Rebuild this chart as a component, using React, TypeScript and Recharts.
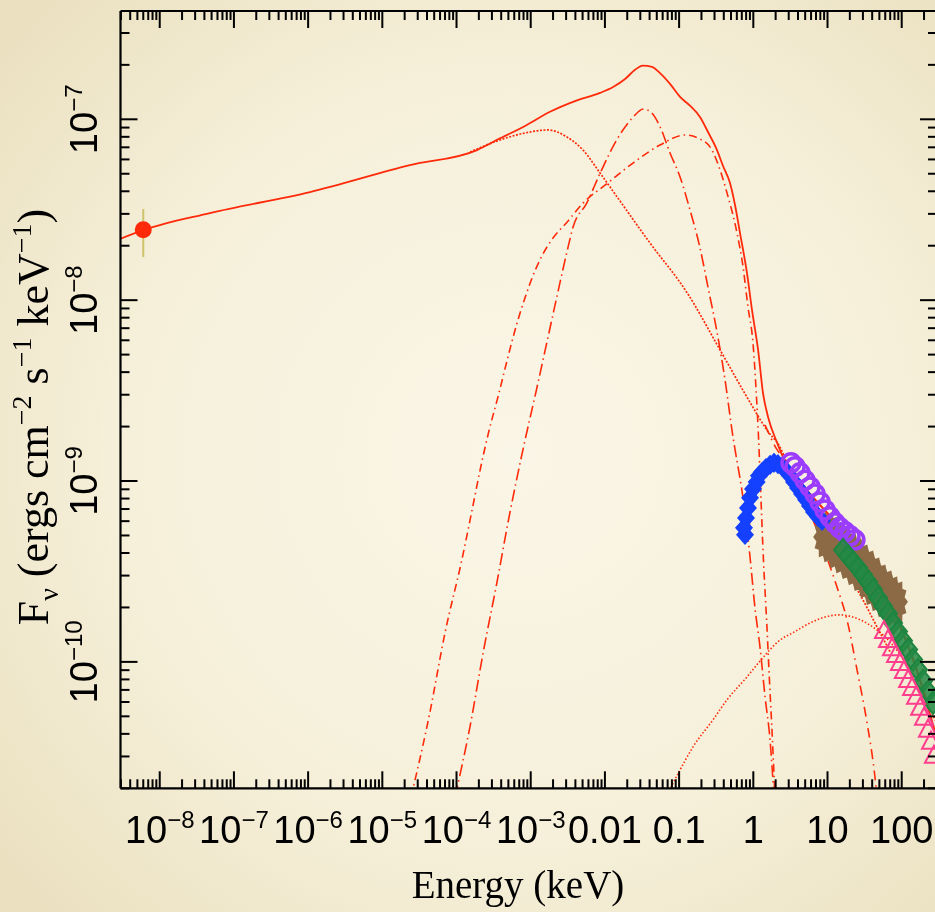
import React from 'react';
import { ComposedChart, Line, Scatter, XAxis, YAxis, ErrorBar } from 'recharts';

// energy (keV) / F_nu (ergs cm^-2 s^-1 keV^-1) pairs
const radioPoint = [{ e: 6.0e-9, f: 2.45e-8, err: [0.72e-8, 0.74e-8] }];

const totalModel: [number, number][] = [
  [2.9e-9, 2.18e-8], [6.0e-9, 2.44e-8], [4.75e-8, 3.03e-8], [1.06e-6, 3.96e-8], [2.36e-5, 5.58e-8],
  [1.89e-4, 6.76e-8], [3.86e-4, 7.85e-8], [8.38e-4, 9.18e-8], [1.82e-3, 1.1e-7], [3.95e-3, 1.26e-7],
  [8.59e-3, 1.4e-7], [1.29e-2, 1.51e-7], [1.87e-2, 1.67e-7], [2.55e-2, 1.88e-7], [3.26e-2, 1.98e-7],
  [4.31e-2, 1.95e-7], [5.53e-2, 1.8e-7], [7.54e-2, 1.57e-7], [0.103, 1.33e-7], [0.14, 1.19e-7],
  [0.191, 1.03e-7], [0.245, 8.51e-8], [0.324, 6.76e-8], [0.391, 5.52e-8], [0.485, 4.45e-8],
  [0.567, 3.36e-8], [0.662, 2.35e-8], [0.822, 1.41e-8], [0.96, 8.83e-9], [1.16, 5.31e-9],
  [1.35, 3.07e-9], [1.58, 2.26e-9], [2.09, 1.63e-9], [2.51, 1.36e-9], [3.12, 1.18e-9],
];

const synchrotron: [number, number][] = [
  [1.52e-4, 6.59e-8], [3.86e-4, 7.69e-8], [8.38e-4, 8.4e-8], [1.71e-3, 8.73e-8], [3.08e-3, 7.98e-8],
  [5.07e-3, 6.76e-8], [8.59e-3, 5.05e-8], [1.46e-2, 3.72e-8], [4.05e-2, 2.07e-8], [0.128, 1.1e-8],
  [0.356, 5.31e-9], [0.822, 2.91e-9], [1.53, 1.91e-9], [2.29, 1.54e-9], [3.65, 9.77e-10],
  [5.81, 6.58e-10], [10.2, 4.44e-10], [18.3, 3.14e-10], [29.2, 2.25e-10], [46.5, 1.56e-10], [69.5, 1.14e-10],
];

const broadBump: [number, number][] = [
  [2.44e-5, 1.79e-11], [4.3e-5, 5.07e-11], [7.0e-5, 1.45e-10], [1.17e-4, 3.61e-10], [1.6e-4, 6.73e-10],
  [2.07e-4, 1.14e-9], [2.69e-4, 1.84e-9], [3.66e-4, 2.97e-9], [4.75e-4, 4.56e-9], [6.47e-4, 7.36e-9],
  [8.38e-4, 1.03e-8], [1.03e-3, 1.31e-8], [1.41e-3, 1.75e-8], [2.02e-3, 2.22e-8], [3.06e-3, 2.69e-8],
  [5.07e-3, 3.44e-8], [1.1e-2, 4.45e-8], [2.39e-2, 5.73e-8], [5.53e-2, 7.21e-8], [0.12, 8.19e-8],
  [0.191, 7.78e-8], [0.277, 6.76e-8], [0.356, 5.25e-8], [0.442, 3.92e-8], [0.603, 2.35e-8],
  [0.727, 1.53e-8], [0.848, 9.16e-9], [0.99, 5.79e-9], [1.09, 3.19e-9], [1.18, 1.69e-9],
  [1.27, 7.87e-10], [1.37, 3.66e-10], [1.51, 1.71e-10], [1.65, 7.94e-11], [1.81, 3.71e-11], [1.96, 1.79e-11],
];

const narrowBump: [number, number][] = [
  [9.55e-5, 1.79e-11], [1.52e-4, 4.39e-11], [2.3e-4, 1.14e-10], [3.48e-4, 2.71e-10], [5.26e-4, 6.73e-10],
  [7.94e-4, 1.52e-9], [1.21e-3, 3.27e-9], [1.73e-3, 6.38e-9], [2.36e-3, 1.14e-8], [3.06e-3, 1.83e-8],
  [3.75e-3, 2.56e-8], [5.69e-3, 3.44e-8], [8.59e-3, 5.02e-8], [1.44e-2, 7.69e-8], [2.41e-2, 1.03e-7],
  [3.29e-2, 1.14e-7], [4.31e-2, 1.08e-7], [5.53e-2, 9.1e-8], [7.54e-2, 6.51e-8], [0.103, 4.8e-8],
  [0.14, 3.16e-8], [0.191, 1.95e-8], [0.245, 1.18e-8], [0.324, 6.67e-9], [0.416, 3.62e-9],
  [0.516, 1.91e-9], [0.773, 6.67e-10], [0.903, 3.8e-10], [1.05, 2.01e-10], [1.23, 1.21e-10],
  [1.44, 6.41e-11], [1.68, 3.71e-11], [1.9, 1.79e-11],
];

const cutoffTail: [number, number][] = [
  [1.44, 2.04e-9], [2.09, 1.49e-9], [2.85, 1.26e-9], [3.88, 9.64e-10], [5.29, 7.28e-10], [7.22, 5.37e-10],
  [9.84, 3.76e-10], [13.4, 2.6e-10], [18.3, 1.71e-10], [25.0, 9.04e-11], [34.1, 4.6e-11], [43.6, 2.31e-11],
  [46.5, 1.79e-11],
];

const comptonHump: [number, number][] = [
  [6.66e-2, 1.79e-11], [0.103, 2.53e-11], [0.154, 3.39e-11], [0.286, 4.78e-11], [0.442, 6.17e-11],
  [0.822, 8.26e-11], [1.23, 1.01e-10], [2.29, 1.32e-10], [3.43, 1.45e-10], [5.81, 1.64e-10],
  [9.25, 1.77e-10], [14.7, 1.82e-10], [27.4, 1.71e-10], [46.5, 1.5e-10], [69.5, 1.29e-10],
  [111, 9.98e-11], [177, 7.0e-11], [328, 4.21e-11],
];

const foldedFit: [number, number][] = [
  [0.823, 6.1e-10], [0.862, 5.24e-10], [0.903, 6.75e-10], [0.991, 8.28e-10], [1.12, 9.51e-10],
  [1.35, 1.05e-9], [1.68, 1.14e-9], [1.96, 1.17e-9], [2.44, 1.15e-9], [3.12, 1.09e-9], [4.26, 9.89e-10],
  [5.81, 8.49e-10], [7.92, 7.37e-10], [10.8, 6.41e-10], [14.7, 5.57e-10], [20.1, 4.91e-10],
  [25.0, 4.27e-10], [32.0, 3.66e-10], [41.0, 3.1e-10], [54.2, 2.56e-10], [69.5, 2.12e-10],
  [89.1, 1.66e-10], [118, 1.27e-10], [151, 9.62e-11], [194, 7.0e-11], [241, 5.09e-11], [328, 3.26e-11],
];

const xrtData: [number, number][] = [
  [0.773, 5.04e-10], [0.749, 5.51e-10], [0.797, 6.25e-10], [0.848, 7.1e-10], [0.903, 8.07e-10],
  [0.991, 9.04e-10], [1.11, 9.88e-10], [1.19, 1.07e-9], [1.31, 1.12e-9], [1.48, 1.18e-9], [1.68, 1.23e-9],
  [1.9, 1.26e-9], [2.15, 1.24e-9], [2.44, 1.2e-9], [2.76, 1.14e-9], [3.12, 1.07e-9], [3.54, 9.88e-10],
  [4.01, 9.16e-10], [4.55, 8.49e-10], [5.15, 7.87e-10], [5.81, 7.28e-10], [6.58, 6.75e-10],
  [7.45, 6.34e-10], [8.43, 6.03e-10],
];

const softData: [number, number][] = [
  [3.22, 1.26e-9], [3.65, 1.2e-9], [4.26, 1.11e-9], [4.98, 1.01e-9], [5.81, 9.27e-10], [6.79, 8.49e-10],
  [7.92, 7.66e-10], [9.25, 6.92e-10], [10.8, 6.34e-10], [12.6, 5.87e-10], [14.7, 5.51e-10],
  [17.2, 5.24e-10], [20.1, 4.98e-10], [23.4, 4.73e-10],
];

const wideData: [number, number][] = [
  [10.2, 4.91e-10], [12.2, 4.61e-10], [14.7, 4.27e-10], [17.7, 4.01e-10], [21.4, 3.72e-10],
  [25.8, 3.44e-10], [31.0, 3.19e-10], [37.4, 2.92e-10], [45.1, 2.67e-10], [54.2, 2.47e-10],
  [65.3, 2.29e-10], [76.2, 2.15e-10],
];

const hardData: [number, number][] = [
  [16.2, 4.16e-10], [18.9, 3.85e-10], [22.1, 3.57e-10], [25.8, 3.31e-10], [30.1, 3.03e-10],
  [35.2, 2.77e-10], [41.0, 2.51e-10], [48.0, 2.26e-10], [56.0, 2.04e-10], [65.3, 1.85e-10],
  [76.4, 1.64e-10], [89.1, 1.47e-10], [104, 1.31e-10], [122, 1.17e-10], [142, 1.03e-10],
  [166, 9.04e-11], [194, 7.85e-11], [226, 6.84e-11], [264, 5.94e-11],
];

const gammaData: [number, number][] = [
  [57.7, 1.48e-10], [65.3, 1.32e-10], [74.0, 1.19e-10], [83.8, 1.09e-10], [94.8, 9.86e-11],
  [107, 8.91e-11], [122, 7.94e-11], [138, 7.18e-11], [156, 6.41e-11], [177, 5.57e-11],
  [200, 4.91e-11], [226, 4.22e-11], [248, 3.62e-11], [272, 3.03e-11],
];

const xDomain = [2.96e-9, 299];
const yDomain = [2.0e-11, 3.97e-7];

const xMajorTicks = [1e-8, 1e-7, 1e-6, 1e-5, 1e-4, 1e-3, 0.01, 0.1, 1, 10, 100];
const xMajorLabels = [
  ['10', '\u22128'], ['10', '\u22127'], ['10', '\u22126'], ['10', '\u22125'], ['10', '\u22124'],
  ['10', '\u22123'], ['0.01', ''], ['0.1', ''], ['1', ''], ['10', ''], ['100', ''],
];
const yMajorTicks = [1e-10, 1e-9, 1e-8, 1e-7];
const yMajorLabels = [['10', '\u221210'], ['10', '\u22129'], ['10', '\u22128'], ['10', '\u22127']];
const minorSteps = [2, 3, 4, 5, 6, 7, 8, 9];

const inRange = (v: number, d: number[]) => v >= d[0] * 0.999 && v <= d[1] * 1.001;
const withMinors = (decades: number[], d: number[]) => {
  const out: number[] = [];
  decades.forEach((p) => {
    out.push(Math.pow(10, p));
    minorSteps.forEach((m) => out.push(m * Math.pow(10, p)));
  });
  return out.filter((v) => inRange(v, d));
};
const xTicks = withMinors([-9, -8, -7, -6, -5, -4, -3, -2, -1, 0, 1, 2], xDomain);
const yTicks = withMinors([-11, -10, -9, -8, -7], yDomain);

const toPts = (a: [number, number][]) => a.map(([e, f]) => ({ e, f }));

const SANS = '"Liberation Sans", Arial, Helvetica, sans-serif';
const SERIF = '"Liberation Serif", "Times New Roman", serif';
const RED = '#ff2a0a';

const majorIndex = (list: number[], v: number) =>
  list.findIndex((t) => Math.abs(Math.log10(t) - Math.log10(v)) < 1e-6);
const isMajor = (v: number) => Math.abs(Math.log10(v) - Math.round(Math.log10(v))) < 1e-6;

function BottomTick({ x, y, payload }: any) {
  const idx = majorIndex(xMajorTicks, payload.value);
  const len = isMajor(payload.value) ? 17 : 9;
  return (
    <g>
      <line x1={x} y1={y} x2={x} y2={y - len} stroke="#000" strokeWidth={2} />
      {idx >= 0 && (
        <text x={x} y={y + 55} textAnchor="middle" fontFamily={SANS} fontSize={38} fill="#000">
          {xMajorLabels[idx][0]}
          {xMajorLabels[idx][1] ? (
            <tspan dy={-15} fontSize={24}>{xMajorLabels[idx][1]}</tspan>
          ) : null}
        </text>
      )}
    </g>
  );
}

function TopTick({ x, y, payload }: any) {
  const len = isMajor(payload.value) ? 17 : 9;
  return <line x1={x} y1={y} x2={x} y2={y + len} stroke="#000" strokeWidth={2} />;
}

function LeftTick({ x, y, payload }: any) {
  const idx = majorIndex(yMajorTicks, payload.value);
  const len = isMajor(payload.value) ? 17 : 9;
  const bx = 97;
  return (
    <g>
      <line x1={x} y1={y} x2={x + len} y2={y} stroke="#000" strokeWidth={2} />
      {idx >= 0 && (
        <text x={bx} y={y} transform={`rotate(-90 ${bx} ${y})`} textAnchor="middle"
          fontFamily={SANS} fontSize={38} fill="#000">
          {yMajorLabels[idx][0]}
          <tspan dy={-15} fontSize={24}>{yMajorLabels[idx][1]}</tspan>
        </text>
      )}
    </g>
  );
}

function RightTick({ x, y, payload }: any) {
  const len = isMajor(payload.value) ? 17 : 9;
  return <line x1={x} y1={y} x2={x - len} y2={y} stroke="#000" strokeWidth={2} />;
}

function XTitle() {
  return (
    <text x={518} y={898} textAnchor="middle" fontFamily={SERIF} fontSize={39} fill="#000">
      Energy (keV)
    </text>
  );
}

function YTitle() {
  const cx = 48;
  const cy = 417;
  return (
    <text x={cx} y={cy} transform={`rotate(-90 ${cx} ${cy})`} textAnchor="middle"
      fontFamily={SERIF} fontSize={44} fill="#000">
      F<tspan fontSize={28} dy={10}>{'\u03bd'}</tspan>
      <tspan dy={-10}> (ergs cm</tspan>
      <tspan fontSize={28} dy={-17}>{'\u22122'}</tspan>
      <tspan dy={17}> s</tspan>
      <tspan fontSize={28} dy={-17}>{'\u22121'}</tspan>
      <tspan dy={17}> keV</tspan>
      <tspan fontSize={28} dy={-17}>{'\u22121'}</tspan>
      <tspan dy={17}>)</tspan>
    </text>
  );
}

const diamond = (cx: number, cy: number, rx: number, ry: number) =>
  `M${cx},${cy - ry}L${cx + rx},${cy}L${cx},${cy + ry}L${cx - rx},${cy}Z`;

const blob = (cx: number, cy: number) => {
  const pts: string[] = [];
  for (let i = 0; i < 28; i++) {
    const a = (i / 28) * Math.PI * 2;
    const ro = i % 2 === 0 ? 1 : 0.8;
    pts.push(`${cx + Math.cos(a) * 15 * ro},${cy + Math.sin(a) * 26 * ro}`);
  }
  return `M${pts.join('L')}Z`;
};

export default function App() {
  const axisLine = { stroke: '#000', strokeWidth: 2.2 };
  return (
    <div
      style={{
        position: 'fixed', left: 0, top: 0, width: 935, height: 912, overflow: 'hidden',
        background: 'radial-gradient(ellipse 70% 70% at 55% 50%, #faf6e7 0%, #f6f0da 60%, #ebe1c1 100%)',
      }}
    >
      <ComposedChart width={1000} height={912} margin={{ top: 10, right: 62, bottom: 0, left: 0 }}>
        <XAxis xAxisId="b" dataKey="e" type="number" scale="log" domain={xDomain} allowDataOverflow
          ticks={xTicks} interval={0} tickSize={0} tickMargin={0} tickLine={false}
          axisLine={axisLine} height={123.7} tick={<BottomTick />} label={<XTitle />} />
        <XAxis xAxisId="t" orientation="top" dataKey="e" type="number" scale="log" domain={xDomain}
          allowDataOverflow ticks={xTicks} interval={0} tickSize={0} tickMargin={0} tickLine={false}
          axisLine={axisLine} height={1} tick={<TopTick />} />
        <YAxis yAxisId="l" dataKey="f" type="number" scale="log" domain={yDomain} allowDataOverflow
          ticks={yTicks} interval={0} tickSize={0} tickMargin={0} tickLine={false}
          axisLine={axisLine} width={120.5} tick={<LeftTick />} label={<YTitle />} />
        <YAxis yAxisId="r" orientation="right" dataKey="f" type="number" scale="log" domain={yDomain}
          allowDataOverflow ticks={yTicks} interval={0} tickSize={0} tickMargin={0} tickLine={false}
          axisLine={axisLine} width={1} tick={<RightTick />} />

        <Line xAxisId="t" yAxisId="r" data={toPts(comptonHump)} dataKey="f" type="monotone" stroke={RED}
          strokeWidth={1.6} strokeDasharray="1.5 2" dot={false} activeDot={false} isAnimationActive={false} />
        <Line xAxisId="b" yAxisId="l" data={toPts(cutoffTail)} dataKey="f" type="monotone" stroke={RED}
          strokeWidth={1.6} strokeDasharray="10 5 1.5 5" dot={false} activeDot={false} isAnimationActive={false} />
        <Line xAxisId="b" yAxisId="l" data={toPts(narrowBump)} dataKey="f" type="monotone" stroke={RED}
          strokeWidth={1.6} strokeDasharray="12 4 1.5 4" dot={false} activeDot={false} isAnimationActive={false} />
        <Line xAxisId="b" yAxisId="l" data={toPts(broadBump)} dataKey="f" type="monotone" stroke={RED}
          strokeWidth={1.6} strokeDasharray="8 4 1.5 4" dot={false} activeDot={false} isAnimationActive={false} />
        <Line xAxisId="b" yAxisId="l" data={toPts(synchrotron)} dataKey="f" type="monotone" stroke={RED}
          strokeWidth={1.7} strokeDasharray="2 1.5" dot={false} activeDot={false} isAnimationActive={false} />
        <Line xAxisId="b" yAxisId="l" data={toPts(totalModel)} dataKey="f" type="monotone" stroke={RED}
          strokeWidth={1.8} dot={false} activeDot={false} isAnimationActive={false} />

        <Scatter xAxisId="b" yAxisId="l" data={toPts(wideData)} dataKey="f" isAnimationActive={false}
          shape={(p: any) => <path d={blob(p.cx, p.cy)} fill="#8c6a45" />} />
        <Scatter xAxisId="b" yAxisId="l" data={toPts(xrtData)} dataKey="f" isAnimationActive={false}
          shape={(p: any) => <path d={diamond(p.cx, p.cy, 8, 9)} fill="#1540ff" stroke="#1540ff" strokeWidth={1.5} />} />
        <Scatter xAxisId="b" yAxisId="l" data={toPts(softData)} dataKey="f" isAnimationActive={false}
          shape={(p: any) => <circle cx={p.cx} cy={p.cy} r={9} fill="none" stroke="#9b3cff" strokeWidth={3.5} />} />
        <Scatter xAxisId="b" yAxisId="l" data={toPts(hardData)} dataKey="f" isAnimationActive={false}
          shape={(p: any) => <path d={diamond(p.cx, p.cy, 9, 11)} fill="#238a44" fillOpacity={0.85} stroke="#1e8541" strokeWidth={2} />} />
        <Scatter xAxisId="b" yAxisId="l" data={toPts(gammaData)} dataKey="f" isAnimationActive={false}
          shape={(p: any) => (
            <path d={`M${p.cx},${p.cy - 10}L${p.cx + 9},${p.cy + 7}L${p.cx - 9},${p.cy + 7}Z`}
              fill="none" stroke="#ff3f8e" strokeWidth={2} />
          )} />

        <Line xAxisId="b" yAxisId="l" data={toPts(foldedFit)} dataKey="f" type="monotone" stroke={RED}
          strokeWidth={2.2} dot={false} activeDot={false} isAnimationActive={false} />

        <Scatter xAxisId="b" yAxisId="l" data={radioPoint} dataKey="f" isAnimationActive={false}
          shape={(p: any) => <circle cx={p.cx} cy={p.cy} r={8.5} fill={RED} />}>
          <ErrorBar dataKey="err" direction="y" width={0} stroke="#cfc36a" strokeWidth={2} />
        </Scatter>
      </ComposedChart>
    </div>
  );
}
